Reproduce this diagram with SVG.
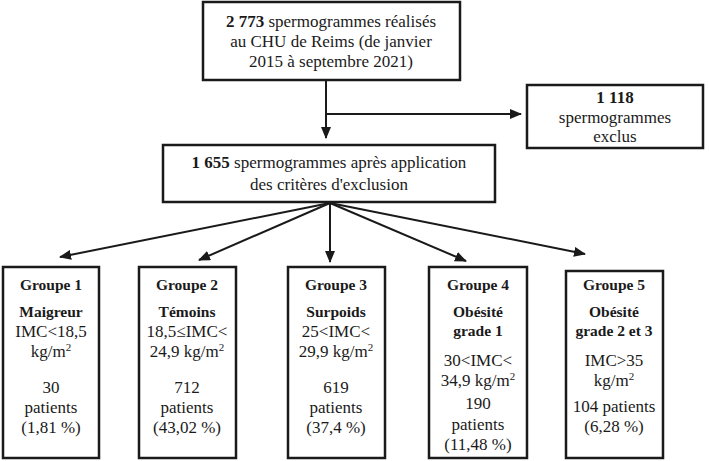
<svg xmlns="http://www.w3.org/2000/svg" width="709" height="461" viewBox="0 0 709 461" font-family="Liberation Serif, Times New Roman, serif">
<style>
.box{fill:#fff;stroke:#1a1a1a;stroke-width:2.5}
text{font-size:17px;fill:#1a1a1a;text-anchor:middle}
.b{font-weight:bold}
.h{font-weight:bold;font-size:15.5px}
.sup{font-size:11px}
.ln{stroke:#1a1a1a;stroke-width:2;fill:none}
</style>
<defs>
<marker id="ah" viewBox="0 0 12 10" refX="11" refY="5" markerWidth="12" markerHeight="10" markerUnits="userSpaceOnUse" orient="auto">
<path d="M0,0 L12,5 L0,10 Z" fill="#1a1a1a"/>
</marker>
</defs>
<g id="connectors">
<path class="ln" d="M326,80 V138" marker-end="url(#ah)"/>
<path class="ln" d="M326,114 H521" marker-end="url(#ah)"/>
<path class="ln" d="M330,203 L60,257" marker-end="url(#ah)"/>
<path class="ln" d="M330,203 L199,260" marker-end="url(#ah)"/>
<path class="ln" d="M330,203 V262" marker-end="url(#ah)"/>
<path class="ln" d="M330,203 L466,261" marker-end="url(#ah)"/>
<path class="ln" d="M330,203 L585,254" marker-end="url(#ah)"/>
</g>
<g id="n_total">
<rect class="box" x="203" y="2" width="257" height="78"/>
<text x="331" y="27"><tspan class="b">2 773</tspan> spermogrammes réalisés</text>
<text x="331" y="47">au CHU de Reims (de janvier</text>
<text x="331" y="67">2015 à septembre 2021)</text>
</g>
<g id="n_exclus">
<rect class="box" x="527" y="85" width="176" height="63"/>
<text class="b" x="615" y="103">1 118</text>
<text x="615" y="123">spermogrammes</text>
<text x="615" y="142">exclus</text>
</g>
<g id="n_apres">
<rect class="box" x="163" y="145" width="332" height="57"/>
<text x="329" y="168"><tspan class="b">1 655</tspan> spermogrammes après application</text>
<text x="329" y="190">des critères d'exclusion</text>
</g>
<g id="g1">
<rect class="box" x="3" y="267" width="96" height="191"/>
<text class="h" x="51" y="290">Groupe 1</text>
<text class="h" x="51" y="317">Maigreur</text>
<text x="51" y="337">IMC&lt;18,5</text>
<text x="51" y="357">kg/m<tspan class="sup" dy="-6">2</tspan></text>
<text x="51" y="393">30</text>
<text x="51" y="413">patients</text>
<text x="51" y="433">(1,81 %)</text>
</g>
<g id="g2">
<rect class="box" x="139" y="267" width="97" height="191"/>
<text class="h" x="187" y="290">Groupe 2</text>
<text class="h" x="187" y="317">Témoins</text>
<text x="187" y="337">18,5≤IMC&lt;</text>
<text x="187" y="357">24,9 kg/m<tspan class="sup" dy="-6">2</tspan></text>
<text x="187" y="393">712</text>
<text x="187" y="413">patients</text>
<text x="187" y="433">(43,02 %)</text>
</g>
<g id="g3">
<rect class="box" x="288" y="267" width="97" height="191"/>
<text class="h" x="336" y="290">Groupe 3</text>
<text class="h" x="336" y="317">Surpoids</text>
<text x="336" y="337">25&lt;IMC&lt;</text>
<text x="336" y="357">29,9 kg/m<tspan class="sup" dy="-6">2</tspan></text>
<text x="336" y="393">619</text>
<text x="336" y="413">patients</text>
<text x="336" y="433">(37,4 %)</text>
</g>
<g id="g4">
<rect class="box" x="429" y="267" width="98" height="191"/>
<text class="h" x="478" y="290">Groupe 4</text>
<text class="h" x="478" y="317">Obésité</text>
<text class="h" x="478" y="336">grade 1</text>
<text x="478" y="366">30&lt;IMC&lt;</text>
<text x="478" y="386">34,9 kg/m<tspan class="sup" dy="-6">2</tspan></text>
<text x="478" y="409">190</text>
<text x="478" y="430">patients</text>
<text x="478" y="450">(11,48 %)</text>
</g>
<g id="g5">
<rect class="box" x="566" y="271" width="97" height="187"/>
<text class="h" x="614" y="290">Groupe 5</text>
<text class="h" x="614" y="317">Obésité</text>
<text class="h" x="614" y="336">grade 2 et 3</text>
<text x="614" y="366">IMC&gt;35</text>
<text x="614" y="386">kg/m<tspan class="sup" dy="-6">2</tspan></text>
<text x="614" y="412">104 patients</text>
<text x="614" y="432">(6,28 %)</text>
</g>
</svg>
